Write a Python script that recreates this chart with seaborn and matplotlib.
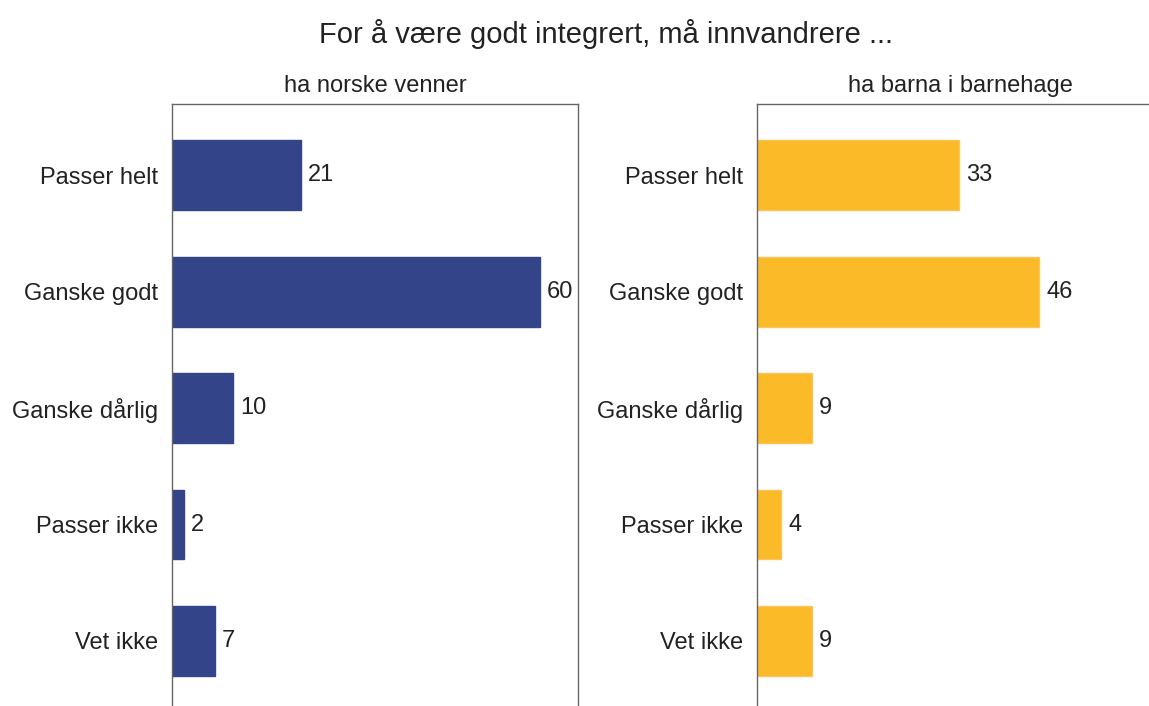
import pandas as pd
import matplotlib
matplotlib.use("Agg")
import matplotlib.pyplot as plt
import seaborn as sns

# Data
categories = ['Passer helt', 'Ganske godt', 'Ganske dårlig', 'Passer ikke', 'Vet ikke']
venner = [21, 60, 10, 2, 7]
barnehage = [33, 46, 9, 4, 9]
panel_titles = ['ha norske venner', 'ha barna i barnehage']
colors = ['#334488', '#FBBA27']
edges = ['#334488', '#FCC45A']

sns.set_style('white')
plt.rcParams['font.family'] = ['Liberation Sans', 'DejaVu Sans']

fig = plt.figure(figsize=(11.49, 7.06), dpi=100)
ax1 = fig.add_axes([0.1497, -0.0085, 0.3534, 0.861])
ax2 = fig.add_axes([0.6588, -0.0085, 0.3534, 0.861])

for ax, vals, title, col, ec in zip([ax1, ax2], [venner, barnehage], panel_titles, colors, edges):
    df = pd.DataFrame({'kategori': categories, 'prosent': vals})
    sns.barplot(data=df, y='kategori', x='prosent', orient='h', color=col,
                saturation=1, width=0.6, ax=ax, edgecolor=ec, linewidth=1)
    ax.bar_label(ax.containers[0], padding=5, fontsize=17, color='#222222')
    ax.set_xlim(0, 66.2)
    ax.set_ylim(4.61, -0.61)
    ax.set_xlabel('')
    ax.set_ylabel('')
    ax.set_xticks([])
    ax.tick_params(axis='y', length=0, pad=10, labelsize=17, labelcolor='#222222')
    ax.set_title(title, fontsize=17, color='#222222', pad=9)
    for s in ['left', 'top', 'right']:
        ax.spines[s].set_visible(True)
        ax.spines[s].set_color('#666666')
        ax.spines[s].set_linewidth(1)
    ax.spines['bottom'].set_visible(False)

fig.suptitle('For å være godt integrert, må innvandrere ...', x=0.527, y=0.952, va='center',
             fontsize=21, color='#222222')

fig.savefig('out.png', dpi=100)
